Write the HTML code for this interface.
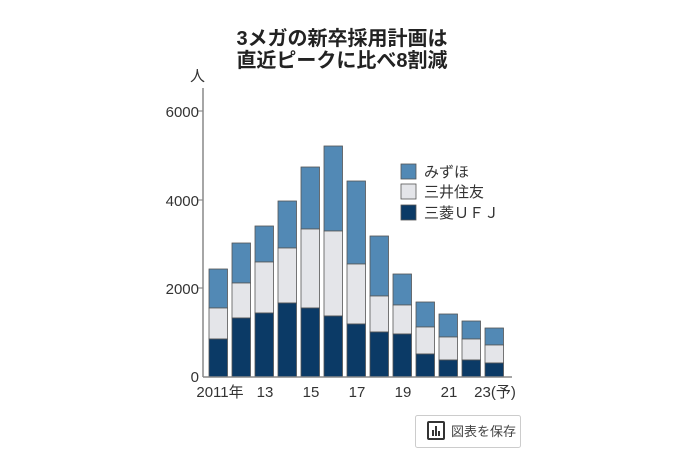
<!DOCTYPE html>
<html><head><meta charset="utf-8"><style>
html,body{margin:0;padding:0;background:#fff;width:684px;height:457px;overflow:hidden}
svg{display:block}
text{font-family:"Liberation Sans","Noto Sans CJK JP",sans-serif}
</style></head><body>
<svg width="684" height="457" viewBox="0 0 684 457">
<g font-weight="bold" font-size="20" fill="#222" text-anchor="middle" font-family="'Noto Sans CJK JP',sans-serif">
<text x="342" y="45">3メガの新卒採用計画は</text>
<text x="342" y="67">直近ピークに比べ8割減</text>
</g>
<text x="190" y="81" font-size="15" fill="#333" font-family="'Noto Sans CJK JP',sans-serif">人</text>
<g font-size="15" fill="#333" text-anchor="end">
<text x="199" y="117">6000</text>
<text x="199" y="206">4000</text>
<text x="199" y="294">2000</text>
<text x="199" y="382">0</text>
</g>
<g stroke="#777" stroke-width="1">
<line x1="198" y1="111" x2="203" y2="111"/><line x1="198" y1="200" x2="203" y2="200"/><line x1="198" y1="288" x2="203" y2="288"/>
</g>
<g stroke="#555" stroke-width="0.8">
<rect x="209" y="269" width="18.5" height="39" fill="#5289b5"/><rect x="209" y="308" width="18.5" height="31" fill="#e4e5e9"/><rect x="209" y="339" width="18.5" height="38" fill="#0b3a66"/>
<rect x="232" y="243" width="18.5" height="40" fill="#5289b5"/><rect x="232" y="283" width="18.5" height="35" fill="#e4e5e9"/><rect x="232" y="318" width="18.5" height="59" fill="#0b3a66"/>
<rect x="255" y="226" width="18.5" height="36" fill="#5289b5"/><rect x="255" y="262" width="18.5" height="51" fill="#e4e5e9"/><rect x="255" y="313" width="18.5" height="64" fill="#0b3a66"/>
<rect x="278" y="201" width="18.5" height="47" fill="#5289b5"/><rect x="278" y="248" width="18.5" height="55" fill="#e4e5e9"/><rect x="278" y="303" width="18.5" height="74" fill="#0b3a66"/>
<rect x="301" y="167" width="18.5" height="62" fill="#5289b5"/><rect x="301" y="229" width="18.5" height="79" fill="#e4e5e9"/><rect x="301" y="308" width="18.5" height="69" fill="#0b3a66"/>
<rect x="324" y="146" width="18.5" height="85" fill="#5289b5"/><rect x="324" y="231" width="18.5" height="85" fill="#e4e5e9"/><rect x="324" y="316" width="18.5" height="61" fill="#0b3a66"/>
<rect x="347" y="181" width="18.5" height="83" fill="#5289b5"/><rect x="347" y="264" width="18.5" height="60" fill="#e4e5e9"/><rect x="347" y="324" width="18.5" height="53" fill="#0b3a66"/>
<rect x="370" y="236" width="18.5" height="60" fill="#5289b5"/><rect x="370" y="296" width="18.5" height="36" fill="#e4e5e9"/><rect x="370" y="332" width="18.5" height="45" fill="#0b3a66"/>
<rect x="393" y="274" width="18.5" height="31" fill="#5289b5"/><rect x="393" y="305" width="18.5" height="29" fill="#e4e5e9"/><rect x="393" y="334" width="18.5" height="43" fill="#0b3a66"/>
<rect x="416" y="302" width="18.5" height="25" fill="#5289b5"/><rect x="416" y="327" width="18.5" height="27" fill="#e4e5e9"/><rect x="416" y="354" width="18.5" height="23" fill="#0b3a66"/>
<rect x="439" y="314" width="18.5" height="23" fill="#5289b5"/><rect x="439" y="337" width="18.5" height="23" fill="#e4e5e9"/><rect x="439" y="360" width="18.5" height="17" fill="#0b3a66"/>
<rect x="462" y="321" width="18.5" height="18" fill="#5289b5"/><rect x="462" y="339" width="18.5" height="21" fill="#e4e5e9"/><rect x="462" y="360" width="18.5" height="17" fill="#0b3a66"/>
<rect x="485" y="328" width="18.5" height="17" fill="#5289b5"/><rect x="485" y="345" width="18.5" height="18" fill="#e4e5e9"/><rect x="485" y="363" width="18.5" height="14" fill="#0b3a66"/>
</g>
<line x1="203" y1="88" x2="203" y2="377" stroke="#888" stroke-width="1.5"/>
<line x1="203" y1="377" x2="512" y2="377" stroke="#888" stroke-width="1.5"/>
<g font-size="15" fill="#333" text-anchor="middle" font-family="'Liberation Sans','Noto Sans CJK JP',sans-serif">
<text x="220" y="397">2011年</text>
<text x="265" y="397">13</text>
<text x="311" y="397">15</text>
<text x="357" y="397">17</text>
<text x="403" y="397">19</text>
<text x="449" y="397">21</text>
<text x="495" y="397">23(予)</text>
</g>
<g stroke="#555" stroke-width="0.8">
<rect x="401" y="164" width="15" height="15" fill="#5289b5"/>
<rect x="401" y="184" width="15" height="15" fill="#e4e5e9"/>
<rect x="401" y="205" width="15" height="15" fill="#0b3a66"/>
</g>
<g font-size="15" fill="#333" font-family="'Noto Sans CJK JP',sans-serif">
<text x="424" y="177">みずほ</text>
<text x="424" y="197">三井住友</text>
<text x="424" y="218">三菱ＵＦＪ</text>
</g>
<rect x="415.5" y="415.5" width="105" height="32" fill="#fff" stroke="#ccc" rx="2"/>
<rect x="428" y="422" width="16" height="17" fill="none" stroke="#333" stroke-width="2" rx="1"/>
<rect x="432" y="430" width="2" height="6" fill="#333"/><rect x="435" y="426" width="2" height="10" fill="#333"/><rect x="438" y="431" width="2" height="5" fill="#333"/>
<text x="451" y="436" font-size="13" fill="#444" font-family="'Noto Sans CJK JP',sans-serif">図表を保存</text>
</svg>
</body></html>
